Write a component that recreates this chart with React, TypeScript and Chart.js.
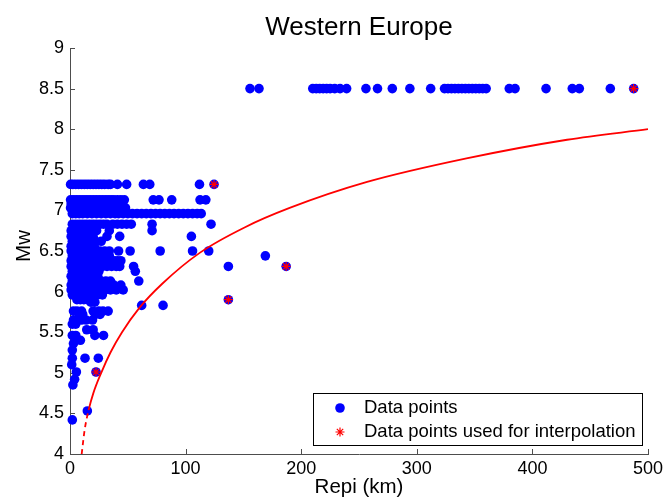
import { useEffect, useRef } from "react";
import { Chart, registerables } from "chart.js";

Chart.register(...registerables);

const FONT = "'Liberation Sans', Arial, Helvetica, sans-serif";

// Axis tick values
const xTicks = [0, 100, 200, 300, 400, 500];
const yTicks = [4, 4.5, 5, 5.5, 6, 6.5, 7, 7.5, 8, 8.5, 9];

// Data points grouped by magnitude level (Mw) -> list of epicentral distances (km)
const mwLevels = [
  8.5, 7.32, 7.13, 7.08, 7.03, 6.96, 6.83, 6.75, 6.68, 6.62, 6.56, 6.5, 6.44, 6.38, 6.31, 6.25, 6.19,
  6.13, 6.08, 6.02, 5.96, 5.9, 5.87, 5.83, 5.76, 5.72, 5.65, 5.6, 5.53, 5.46, 5.4, 5.36, 5.28, 5.18,
  5.1, 5.01, 4.92, 4.85, 4.53, 4.42,
];
const repiAtLevel = [
  [155.7, 163.5, 210, 213, 216, 219, 222, 225, 229, 233.6, 239.3, 256, 266, 278.8, 294, 312, 324, 327, 330, 333, 336, 339, 342, 345, 348, 351, 354, 357, 360, 380, 385, 411.8, 434.5, 440.6, 467.4, 487.6],
  [0.5, 2.5, 5, 7.5, 10, 12.5, 15, 17.5, 20, 22.5, 25, 27.5, 30, 33, 35, 41, 49, 63.5, 69, 112, 124.6],
  [0.5, 3, 5.5, 8, 10.5, 13, 15.5, 18, 20.5, 23, 25.5, 28, 30.5, 33, 35.5, 38, 41, 44, 47, 72, 77, 88, 112.5, 117.5],
  [1, 3.5, 6, 8.5, 11, 13.5, 16, 19, 22, 25, 28, 31, 34, 37, 40, 43],
  [0.5, 3, 5.5, 8, 10.5, 13, 16, 19, 22, 25, 28, 31, 34, 38, 43, 48],
  [2, 5, 8, 11, 15, 19, 23, 27, 31, 35, 39, 42, 46, 50, 54, 58, 62, 66, 70, 74, 78, 82, 86, 90, 94, 98, 102, 106, 110, 113.5],
  [2, 5, 8, 11, 14, 17, 20, 23, 26, 29, 32, 37, 41, 45, 49, 53, 71, 122],
  [1, 4, 7, 10, 13, 16, 19, 23, 34, 71],
  [1, 4, 7, 10, 13, 16, 20, 32, 43, 105],
  [2, 5, 8, 11, 14, 18, 22, 27],
  [1, 4, 7, 10, 13, 17, 21],
  [1, 4, 7, 10, 13, 16, 19, 22, 26, 30, 34, 42, 52, 78, 106, 120],
  [2, 5, 8, 11, 14, 17, 20, 24, 29, 34, 169],
  [1, 4, 7, 10, 13, 16, 19, 23, 27, 31, 38, 41, 44],
  [1, 4, 7, 10, 13, 16, 19, 22, 25, 28, 32, 36, 40, 43, 55, 137, 187],
  [2, 5, 8, 11, 14, 17, 21, 25, 56.5],
  [1, 4, 7, 10, 13, 16, 20, 24],
  [2, 5, 8, 11, 14, 17, 20, 23, 27, 31, 35, 59.5],
  [1, 4, 7, 10, 13, 16, 19, 22, 26, 30, 34, 38, 44],
  [1, 4, 7, 10, 13, 16, 19, 22, 26, 30, 35, 40, 46],
  [2, 5, 8, 11, 14, 17, 20, 24, 28],
  [6, 9, 12, 15, 137],
  [18, 21.5],
  [62, 80.5],
  [3, 6, 10, 20, 25, 28.5, 33],
  [8, 11, 22, 26],
  [3, 10, 14, 19.5],
  [2, 5],
  [14.5, 20],
  [2, 5, 21.5, 29],
  [9],
  [3],
  [2],
  [2, 13, 24.5],
  [1.5],
  [5.5, 22.5],
  [4],
  [2.5],
  [15],
  [2],
];

// Points used for interpolation
const interpRepi = [22.5, 124.6, 137, 187, 487.6];
const interpMw = [5.01, 7.32, 5.9, 6.31, 8.5];

// Fitted curve
const curveRepi = [10.1, 12.7, 16.1, 20.2, 27, 35, 45, 60, 80, 112.5, 151, 190, 257, 343, 430, 500];
const curveMw = [4.0, 4.3, 4.54, 4.75, 5.0, 5.25, 5.5, 5.8, 6.1, 6.48, 6.79, 7.03, 7.35, 7.64, 7.87, 8.0];

const AXIS_COLOR = "#4d4d4d";

const decorPlugin = {
  id: "decor",
  beforeDatasetsDraw(chart: any) {
    const { ctx, chartArea, scales } = chart;
    ctx.save();
    ctx.strokeStyle = AXIS_COLOR;
    ctx.lineWidth = 1;
    ctx.beginPath();
    for (const v of xTicks) {
      const px = Math.round(scales.x.getPixelForValue(v)) + 0.5;
      ctx.moveTo(px, chartArea.bottom);
      ctx.lineTo(px, chartArea.bottom - 5);
    }
    for (const v of yTicks) {
      const py = Math.round(scales.y.getPixelForValue(v)) + 0.5;
      ctx.moveTo(chartArea.left, py);
      ctx.lineTo(chartArea.left + 5, py);
    }
    ctx.stroke();
    ctx.restore();
  },
  afterDraw(chart: any) {
    const { ctx, chartArea } = chart;
    const cx = (chartArea.left + chartArea.right) / 2;
    ctx.save();
    ctx.fillStyle = "#000";
    // Title
    ctx.font = `26px ${FONT}`;
    ctx.textAlign = "center";
    ctx.textBaseline = "alphabetic";
    ctx.fillText("Western Europe", cx, 35);
    // X title
    ctx.font = `20.5px ${FONT}`;
    ctx.fillText("Repi (km)", cx, 493);
    // Y title
    ctx.save();
    ctx.translate(30, 246);
    ctx.rotate(-Math.PI / 2);
    ctx.fillText("Mw", 0, 0);
    ctx.restore();

    // Legend
    const bx = chartArea.right - 335;
    const by = chartArea.bottom - 61;
    const bw = 329;
    const bh = 52;
    ctx.fillStyle = "#fff";
    ctx.fillRect(bx, by, bw, bh);
    ctx.strokeStyle = "#000";
    ctx.lineWidth = 1;
    ctx.strokeRect(Math.round(bx) + 0.5, Math.round(by) + 0.5, bw, bh);
    // entry 1
    ctx.fillStyle = "#0000ff";
    ctx.beginPath();
    ctx.arc(bx + 27, by + 15, 4.8, 0, Math.PI * 2);
    ctx.fill();
    ctx.fillStyle = "#000";
    ctx.font = `18.5px ${FONT}`;
    ctx.textAlign = "left";
    ctx.textBaseline = "middle";
    ctx.fillText("Data points", bx + 51, by + 15);
    // entry 2: star
    const sx = bx + 27;
    const sy = by + 39;
    const r = 4.5;
    ctx.strokeStyle = "#ff0000";
    ctx.lineWidth = 1.2;
    ctx.beginPath();
    for (let k = 0; k < 4; k++) {
      const a = (k * Math.PI) / 4;
      ctx.moveTo(sx - r * Math.cos(a), sy - r * Math.sin(a));
      ctx.lineTo(sx + r * Math.cos(a), sy + r * Math.sin(a));
    }
    ctx.stroke();
    ctx.fillText("Data points used for interpolation", bx + 51, sy);
    ctx.restore();
  },
};

export default function App() {
  const ref = useRef<HTMLCanvasElement>(null);

  useEffect(() => {
    if (!ref.current) return;
    const dots = mwLevels.flatMap((mw, i) => repiAtLevel[i].map((r) => ({ x: r, y: mw })));
    const stars = interpRepi.map((r, i) => ({ x: r, y: interpMw[i] }));
    const curve = curveRepi.map((r, i) => ({ x: r, y: curveMw[i] }));

    const tickFont = { family: FONT, size: 18 };

    const chart = new Chart(ref.current, {
      type: "scatter",
      data: {
        datasets: [
          {
            label: "Data points used for interpolation",
            data: stars,
            pointStyle: "star",
            pointRadius: 4.5,
            borderColor: "#ff0000",
            backgroundColor: "#ff0000",
            borderWidth: 1.2,
            order: 0,
            clip: false,
          } as any,
          {
            type: "line",
            label: "fit",
            data: curve,
            showLine: true,
            borderColor: "#ff0000",
            borderWidth: 1.8,
            pointRadius: 0,
            cubicInterpolationMode: "monotone",
            segment: {
              borderDash: (c: any) => (c.p1.parsed.y <= 4.55 ? [5, 4] : undefined),
            },
            order: 1,
          } as any,
          {
            label: "Data points",
            data: dots,
            pointStyle: "circle",
            pointRadius: 4.8,
            backgroundColor: "#0000ff",
            borderWidth: 0,
            order: 2,
            clip: false,
          } as any,
        ],
      },
      options: {
        responsive: false,
        animation: false,
        events: [],
        layout: { padding: { top: 48, right: 15, left: 0, bottom: 0 } },
        plugins: {
          legend: { display: false },
          tooltip: { enabled: false },
          title: { display: false },
        },
        scales: {
          x: {
            type: "linear",
            min: 0,
            max: 500,
            grid: { display: false, drawTicks: false },
            border: { display: true, color: AXIS_COLOR, width: 1 },
            afterBuildTicks: (s: any) => {
              s.ticks = xTicks.map((v) => ({ value: v }));
            },
            afterFit: (s: any) => {
              s.height = 47;
              s.paddingRight = 0;
              s.paddingLeft = 0;
            },
            ticks: {
              font: tickFont,
              color: "#000",
              padding: 4,
              maxRotation: 0,
              callback: (v: any) => String(v),
            },
          },
          y: {
            type: "linear",
            min: 4,
            max: 9,
            grid: { display: false, drawTicks: false },
            border: { display: true, color: AXIS_COLOR, width: 1 },
            afterBuildTicks: (s: any) => {
              s.ticks = yTicks.map((v) => ({ value: v }));
            },
            afterFit: (s: any) => {
              s.width = 70;
            },
            ticks: {
              font: tickFont,
              color: "#000",
              padding: 6,
              callback: (v: any) => String(v),
            },
          },
        },
      },
      plugins: [decorPlugin],
    });

    return () => chart.destroy();
  }, []);

  return (
    <div style={{ position: "fixed", left: 0, top: 0, width: 663, height: 501, background: "#fff" }}>
      <canvas ref={ref} width={663} height={501} style={{ width: 663, height: 501, display: "block" }} />
    </div>
  );
}
